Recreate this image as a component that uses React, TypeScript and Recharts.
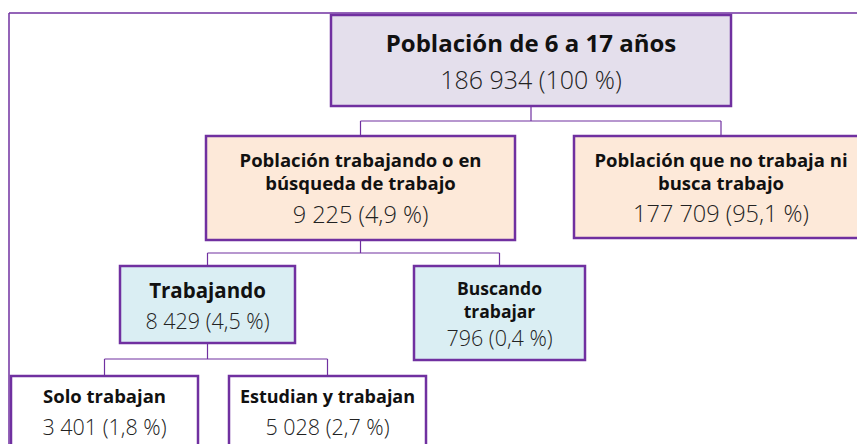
import { ScatterChart, Scatter, XAxis, YAxis, ReferenceLine } from 'recharts'

// tree content
const titles = [
  ['Población de 6 a 17 años'],
  ['Población trabajando o en', 'búsqueda de trabajo'],
  ['Población que no trabaja ni', 'busca trabajo'],
  ['Trabajando'],
  ['Buscando', 'trabajar'],
  ['Solo trabajan'],
  ['Estudian y trabajan'],
]
const counts = [186934, 9225, 177709, 8429, 796, 3401, 5028]
const shares = [100, 4.9, 95.1, 4.5, 0.4, 1.8, 2.7]
const parents = [-1, 0, 0, 1, 1, 3, 3]

// box placement (chart units = px)
const layout = [
  { x0: 331, x1: 731, y0: 15, y1: 106, fill: '#e4dfec', ts: 24, vs: 25, tb: [37], vb: 74, bus: 121 },
  { x0: 206, x1: 515, y0: 136, y1: 240, fill: '#fde9d9', ts: 18.5, vs: 23.5, tb: [31, 54], vb: 87, bus: 253 },
  { x0: 574, x1: 868, y0: 136, y1: 238, fill: '#fde9d9', ts: 18.5, vs: 23.5, tb: [31, 54], vb: 86, bus: 0 },
  { x0: 120, x1: 295, y0: 266, y1: 343, fill: '#daeef3', ts: 20.5, vs: 21.5, tb: [32], vb: 63, bus: 359 },
  { x0: 414, x1: 585, y0: 266, y1: 360, fill: '#daeef3', ts: 17.5, vs: 21.5, tb: [29, 52], vb: 80, bus: 0 },
  { x0: 11, x1: 198, y0: 376, y1: 470, fill: '#ffffff', ts: 18.5, vs: 21.5, tb: [27], vb: 59, bus: 0 },
  { x0: 229, x1: 426, y0: 376, y1: 470, fill: '#ffffff', ts: 18, vs: 21.5, tb: [27], vb: 59, bus: 0 },
]

const PURPLE = '#7030a0'
const FONT = '"Open Sans", sans-serif'

const fmtCount = (n: number) => String(n).replace(/\B(?=(\d{3})+(?!\d))/g, ' ')
const fmtShare = (s: number) => (s === 100 ? '100' : s.toFixed(1).replace('.', ',')) + ' %'

const nodes = titles.map((t, i) => {
  const b = layout[i]
  return {
    x: (b.x0 + b.x1) / 2,
    y: (b.y0 + b.y1) / 2,
    w: b.x1 - b.x0,
    h: b.y1 - b.y0,
    lines: t,
    value: `${fmtCount(counts[i])} (${fmtShare(shares[i])})`,
    b,
  }
})

// elbow connectors
const segments: { x: number; y: number }[][] = []
parents.forEach((_, p) => {
  const kids = parents.map((q, i) => (q === p ? i : -1)).filter((i) => i >= 0)
  if (!kids.length) return
  const pb = layout[p]
  const px = (pb.x0 + pb.x1) / 2
  segments.push([{ x: px, y: pb.y1 }, { x: px, y: pb.bus }])
  const kx = kids.map((k) => (layout[k].x0 + layout[k].x1) / 2)
  segments.push([{ x: Math.min(...kx), y: pb.bus }, { x: Math.max(...kx), y: pb.bus }])
  kids.forEach((k, j) => segments.push([{ x: kx[j], y: pb.bus }, { x: kx[j], y: layout[k].y0 }]))
})

const Box = (props: any) => {
  const { cx, cy, payload } = props
  const { w, h, lines, value, b } = payload
  const top = cy - h / 2
  return (
    <g>
      <rect x={cx - w / 2} y={top} width={w} height={h} fill={b.fill} stroke={PURPLE} strokeWidth={2.5} />
      {lines.map((l: string, i: number) => (
        <text key={i} x={cx} y={top + b.tb[i]} textAnchor="middle" fontFamily={FONT} fontWeight={700} fontSize={b.ts} fill="#111">
          {l}
        </text>
      ))}
      <text x={cx} y={top + b.vb} textAnchor="middle" fontFamily={FONT} fontWeight={300} fontSize={b.vs} fill="#222">
        {value}
      </text>
    </g>
  )
}

export default function App() {
  return (
    <div style={{ position: 'fixed', left: 0, top: 0, background: '#fff' }}>
      <ScatterChart width={857} height={444} margin={{ top: 0, right: 0, bottom: 0, left: 0 }}>
        <XAxis type="number" dataKey="x" domain={[0, 857]} hide />
        <YAxis type="number" dataKey="y" domain={[0, 444]} reversed hide />
        <ReferenceLine segment={[{ x: 9, y: 13 }, { x: 857, y: 13 }]} stroke={PURPLE} strokeWidth={1.5} ifOverflow="visible" />
        <ReferenceLine segment={[{ x: 9, y: 13 }, { x: 9, y: 444 }]} stroke={PURPLE} strokeWidth={1.5} ifOverflow="visible" />
        {segments.map((s, i) => (
          <ReferenceLine key={i} segment={s} stroke={PURPLE} strokeWidth={1.2} ifOverflow="visible" />
        ))}
        <Scatter data={nodes} shape={Box} isAnimationActive={false} />
      </ScatterChart>
    </div>
  )
}
